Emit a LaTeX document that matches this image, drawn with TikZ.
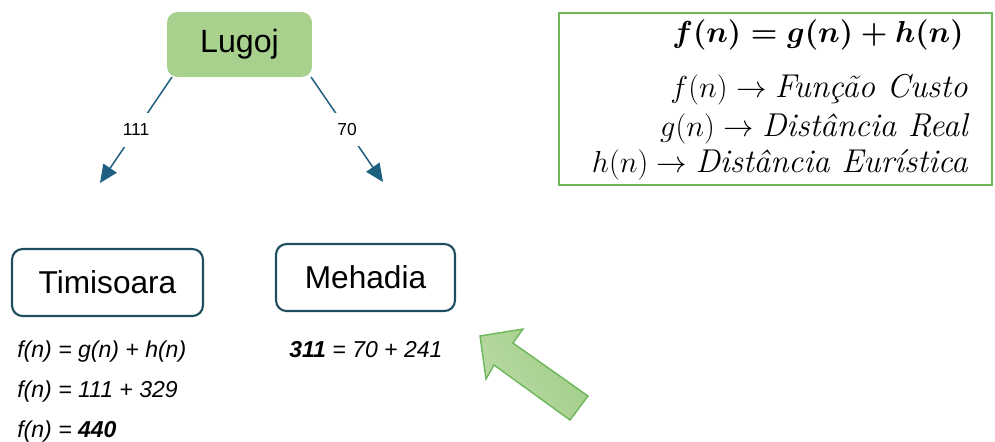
\documentclass[tikz,border=0pt]{standalone}
\usepackage{fontspec}
\newfontfamily\arial{Liberation Sans}
\usepackage{amsmath,amssymb}
\usetikzlibrary{arrows.meta,positioning}
\definecolor{leaf}{HTML}{A9D18E}
\definecolor{leafline}{HTML}{6DB65B}
\definecolor{petrol}{HTML}{1F4E60}
\definecolor{edgeblue}{HTML}{1F5F80}

\begin{document}
\begin{tikzpicture}[x=0.02cm, y=-0.02cm,
  city/.style={draw=petrol, line width=1.2pt, rounded corners=6pt, fill=white, minimum height=1.34cm, font=\arial\fontsize{18}{20}\selectfont},
  root/.style={fill=leaf, rounded corners=6pt, minimum width=2.9cm, minimum height=1.3cm, font=\arial\fontsize{18.3}{20}\selectfont},
  edge/.style={draw=edgeblue, line width=0.85pt, -{Triangle[length=3.6mm, width=3.2mm]}},
  cost/.style={fill=white, inner xsep=2pt, inner ysep=6pt, font=\arial\fontsize{9.9}{11}\selectfont},
  calc/.style={anchor=base west, inner sep=0pt, font=\arial\fontsize{13.1}{15}\selectfont\itshape},
  legend/.style={anchor=base east, inner sep=0pt, font=\fontsize{18.8}{22}\selectfont}
]
\useasboundingbox (0,0) rectangle (995,441);
% tree
\node[root] (lugoj) at (239.5,44.5) {Lugoj};
\node[city, minimum width=3.82cm] (timi) at (107.5,282.5) {Timisoara};
\node[city, minimum width=3.58cm] (meha) at (365.5,277.5) {Mehadia};
\coordinate (tipL) at (100,183);
\coordinate (tipR) at (383,182);
\draw[edge] (172,77) -- node[cost]{111} (tipL);
\draw[edge] (311,77) -- node[cost]{70} (tipR);
% f(n) per node
\node[calc] (t1) at (17,357) {f(n) = g(n) + h(n)};
\node[calc] (t2) at (17,397) {f(n) = 111 + 329};
\node[calc] (t3) at (17,437) {f(n) = \textbf{440}};
\node[calc] (m1) at (289,357) {\textbf{311} = 70 + 241};
% pointer
\draw[leafline, line width=0.8pt, left color=leaf!80!white, right color=leaf!85!leafline, shading angle=125]
  (480,336) -- (523,329) -- (513,343) -- (588,396) -- (570,420) -- (494,365) -- (486,379) -- cycle;
% legend
\draw[leafline, line width=1.2pt] (559,13) rectangle (992,185);
\node[legend, font=\fontsize{17.5}{20}\selectfont] (l1) at (964,42) {$\boldsymbol{f(n) = g(n) + h(n)}$};
\node[legend] (l2) at (968,97) {$f(n) \rightarrow \textit{Função Custo}$};
\node[legend] (l3) at (968,136) {$g(n) \rightarrow \textit{Distância Real}$};
\node[legend] (l4) at (968,172) {$h(n) \rightarrow \textit{Distância Eurística}$};
\end{tikzpicture}
\end{document}
